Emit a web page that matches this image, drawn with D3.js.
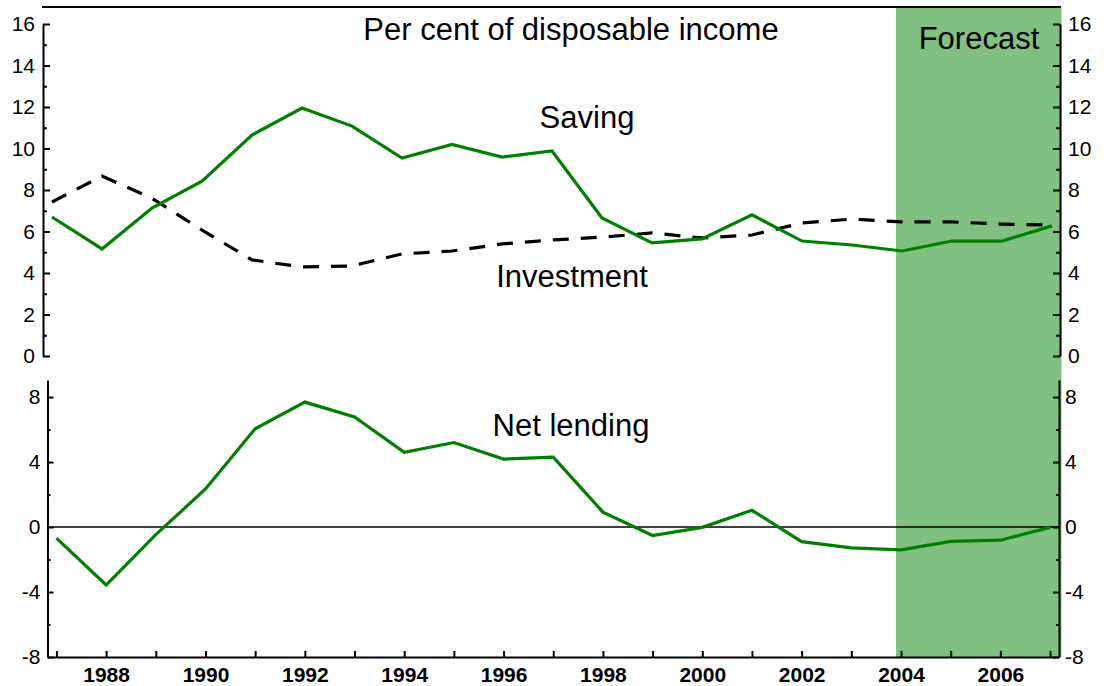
<!DOCTYPE html>
<html>
<head>
<meta charset="utf-8">
<script src="https://cdn.jsdelivr.net/npm/d3@7"></script>
<style>
  html, body { margin: 0; padding: 0; background: #fff; }
  svg { display: block; font-family: "Liberation Sans", Arial, sans-serif; }
  .axis path, .axis line { stroke: #000; stroke-width: 2; }
  .axis text { font-size: 21px; fill: #000; font-family: "Liberation Sans", Arial, sans-serif; }
  .xaxis text { font-weight: bold; }
  .lbl { font-size: 31px; fill: #000; }
</style>
</head>
<body>
<script>
// ---- data ----
const years = d3.range(1987, 2008);
const saving = [6.7, 5.16, 7.13, 8.43, 10.65, 11.95, 11.08, 9.54, 10.2, 9.59, 9.88,
                6.65, 5.45, 5.64, 6.8, 5.54, 5.35, 5.06, 5.54, 5.54, 6.27];
const investment = [7.42, 8.67, 7.6, 6.07, 4.63, 4.29, 4.34, 4.92, 5.06, 5.4, 5.59,
                    5.73, 5.93, 5.69, 5.83, 6.41, 6.6, 6.46, 6.46, 6.36, 6.31];
const netLending = [-0.68, -3.57, -0.47, 2.34, 6.05, 7.69, 6.77, 4.6, 5.2, 4.18, 4.3,
                    0.92, -0.52, -0.02, 1.03, -0.9, -1.28, -1.4, -0.88, -0.81, -0.02];
const topTicks = [0, 2, 4, 6, 8, 10, 12, 14, 16];
const topMinor = [1, 3, 5, 7, 9, 11, 13, 15];
const botTicks = [-8, -4, 0, 4, 8];
const botMinor = [-6, -2, 2, 6];
const xLabelYears = [1988, 1990, 1992, 1994, 1996, 1998, 2000, 2002, 2004, 2006];
const forecastStart = 2003.9;

const W = 1111, H = 686;
const svg = d3.select("body").append("svg").attr("width", W).attr("height", H);
const fmt = d => String(d);

// ---- scales ----
const xTop = d3.scaleLinear().domain([1986.82, 2007.16]).range([43, 1060]);
const yTop = d3.scaleLinear().domain([0, 16]).range([356, 24]);
const xBot = d3.scaleLinear().domain([1986.82, 2007.18]).range([47.5, 1059]);
const yBot = d3.scaleLinear().domain([-8, 9.05]).range([657, 380]);

// forecast shading
svg.append("rect")
  .attr("x", xBot(forecastStart)).attr("y", 8)
  .attr("width", 1061.5 - xBot(forecastStart)).attr("height", 657 - 8)
  .attr("fill", "#80c080");

// top border line
svg.append("line").attr("x1", 42).attr("x2", 1061).attr("y1", 7).attr("y2", 7)
  .attr("stroke", "#000").attr("stroke-width", 2);

// ---- top axes ----
svg.append("g").attr("class", "axis").attr("transform", "translate(43,0)")
  .call(d3.axisLeft(yTop).tickValues(topTicks).tickFormat(fmt).tickSizeInner(-7).tickSizeOuter(0).tickPadding(8));
svg.append("g").attr("class", "axis").attr("transform", "translate(43,0)")
  .call(d3.axisLeft(yTop).tickValues(topMinor).tickSizeInner(-4).tickSizeOuter(0).tickFormat(""))
  .select(".domain").remove();
svg.append("g").attr("class", "axis").attr("transform", "translate(1060,0)")
  .call(d3.axisRight(yTop).tickValues(topTicks).tickFormat(fmt).tickSizeInner(-7).tickSizeOuter(0).tickPadding(8));
svg.append("g").attr("class", "axis").attr("transform", "translate(1060,0)")
  .call(d3.axisRight(yTop).tickValues(topMinor).tickSizeInner(-4).tickSizeOuter(0).tickFormat(""))
  .select(".domain").remove();

// ---- bottom axes ----
svg.append("g").attr("class", "axis").attr("transform", "translate(47.5,0)")
  .call(d3.axisLeft(yBot).tickValues(botTicks).tickFormat(fmt).tickSizeInner(-6).tickSizeOuter(0).tickPadding(7));
svg.append("g").attr("class", "axis").attr("transform", "translate(47.5,0)")
  .call(d3.axisLeft(yBot).tickValues(botMinor).tickSizeInner(-3).tickSizeOuter(0).tickFormat(""))
  .select(".domain").remove();
svg.append("g").attr("class", "axis").attr("transform", "translate(1059,0)")
  .call(d3.axisRight(yBot).tickValues(botTicks).tickFormat(fmt).tickSizeInner(-6).tickSizeOuter(0).tickPadding(6));
svg.append("g").attr("class", "axis").attr("transform", "translate(1059,0)")
  .call(d3.axisRight(yBot).tickValues(botMinor).tickSizeInner(-3).tickSizeOuter(0).tickFormat(""))
  .select(".domain").remove();

// x axis
const xAx = svg.append("g").attr("class", "axis xaxis").attr("transform", "translate(0,657)")
  .call(d3.axisBottom(xBot).tickValues(years).tickSizeInner(-6).tickSizeOuter(0).tickPadding(10)
    .tickFormat(d => xLabelYears.includes(d) ? String(d) : ""));
xAx.selectAll("text").attr("dy", "0.71em");

// zero line
svg.append("line").attr("x1", 47.5).attr("x2", 1059).attr("y1", yBot(0)).attr("y2", yBot(0))
  .attr("stroke", "#000").attr("stroke-width", 1.6);

// ---- series ----
const lineTop = d3.line().x((d, i) => xTop(years[i])).y(d => yTop(d));
const lineBot = d3.line().x((d, i) => xBot(years[i])).y(d => yBot(d));

svg.append("path").datum(investment).attr("d", lineTop)
  .attr("fill", "none").attr("stroke", "#000").attr("stroke-width", 3.2)
  .attr("stroke-dasharray", "16,12");
svg.append("path").datum(saving).attr("d", lineTop)
  .attr("fill", "none").attr("stroke", "#008000").attr("stroke-width", 3.2);
svg.append("path").datum(netLending).attr("d", lineBot)
  .attr("fill", "none").attr("stroke", "#008000").attr("stroke-width", 3.2);

// ---- labels ----
const labels = [
  {t: "Per cent of disposable income", x: 571, y: 40},
  {t: "Saving", x: 587, y: 128},
  {t: "Investment", x: 572, y: 287},
  {t: "Net lending", x: 571, y: 436},
  {t: "Forecast", x: 979, y: 49}
];
svg.selectAll(".lbl").data(labels).enter().append("text")
  .attr("class", "lbl").attr("x", d => d.x).attr("y", d => d.y)
  .attr("text-anchor", "middle").text(d => d.t);
</script>
</body>
</html>
